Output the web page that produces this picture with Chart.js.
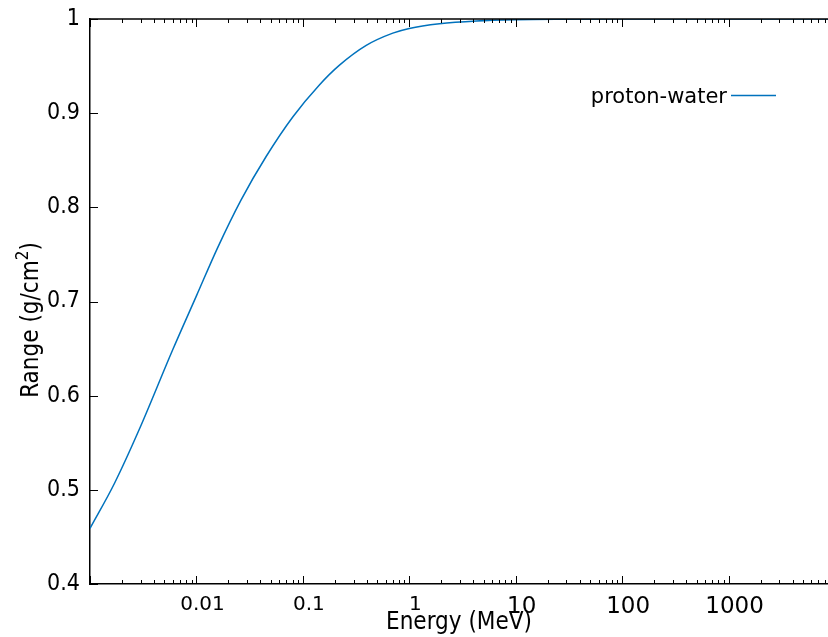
<!DOCTYPE html>
<html lang="en">
<head>
    <meta charset="UTF-8">
    <title>proton-water range</title>
    <script src="https://cdn.jsdelivr.net/npm/chart.js"></script>
    <style>
        body { margin: 0; background: #fff; }
        canvas { display: block; }
    </style>
</head>
<body>
    <canvas id="rangeChart" width="828" height="637"></canvas>

    <script>
        // values
        const energy = [0.001, 0.0017, 0.0029, 0.006, 0.01, 0.0158, 0.0263, 0.0452, 0.0804, 0.143,
                        0.221, 0.394, 0.7, 1, 1.92, 4.29, 10, 30, 100, 1000, 8600];
        const range = [0.459, 0.507, 0.564, 0.649, 0.706, 0.757, 0.808, 0.854, 0.896, 0.930,
                       0.951, 0.972, 0.985, 0.990, 0.995, 0.998, 0.9993, 0.9998, 1, 1, 1];
        const xTicks = [0.01, 0.1, 1, 10, 100, 1000];
        const seriesName = 'proton-water';

        const lineColor = '#0072bd';
        const condensed = '"DejaVu Sans Condensed", "DejaVu Sans", sans-serif';
        const normal = '"DejaVu Sans", sans-serif';

        // gnuplot style frame: top border, mirrored log ticks, y ticks, y title, legend
        const framePlugin = {
            id: 'frame',
            afterDraw(chart) {
                const ctx = chart.ctx;
                const area = chart.chartArea;
                const xs = chart.scales.x;
                const ys = chart.scales.y;
                ctx.save();
                ctx.strokeStyle = '#000';
                ctx.lineWidth = 1.5;
                ctx.beginPath();
                ctx.moveTo(area.left, area.top);
                ctx.lineTo(area.right, area.top);
                ctx.stroke();

                ctx.lineWidth = 1;
                ctx.beginPath();
                for (let d = -3; d <= 4; d++) {
                    for (let m = 1; m <= 9; m++) {
                        const v = m * Math.pow(10, d);
                        if (v < xs.min || v > xs.max) continue;
                        const px = Math.round(xs.getPixelForValue(v)) + 0.5;
                        const len = m === 1 ? 8 : 4;
                        ctx.moveTo(px, area.bottom);
                        ctx.lineTo(px, area.bottom - len);
                        ctx.moveTo(px, area.top);
                        ctx.lineTo(px, area.top + len);
                    }
                }
                ys.ticks.forEach(t => {
                    const py = Math.round(ys.getPixelForValue(t.value)) + 0.5;
                    ctx.moveTo(area.left, py);
                    ctx.lineTo(area.left + 8, py);
                });
                ctx.stroke();

                // y title with a raised superscript
                ctx.fillStyle = '#000';
                ctx.translate(38, 320);
                ctx.rotate(-Math.PI / 2);
                const main = 'Range (g/cm', sup = '2', tail = ')';
                ctx.font = '24px ' + condensed;
                const wMain = ctx.measureText(main).width;
                const wTail = ctx.measureText(tail).width;
                ctx.font = '17px ' + condensed;
                const wSup = ctx.measureText(sup).width;
                const x0 = -(wMain + wSup + wTail) / 2;
                ctx.textAlign = 'left';
                ctx.textBaseline = 'alphabetic';
                ctx.font = '24px ' + condensed;
                ctx.fillText(main, x0, 0);
                ctx.font = '17px ' + condensed;
                ctx.fillText(sup, x0 + wMain, -10);
                ctx.font = '24px ' + condensed;
                ctx.fillText(tail, x0 + wMain + wSup, 0);
                ctx.setTransform(1, 0, 0, 1, 0, 0);

                // legend: text then line sample, as gnuplot draws it
                const ly = 95.5;
                ctx.font = '21px ' + normal;
                ctx.textAlign = 'right';
                ctx.fillText(chart.data.datasets[0].label, 727, 103);
                ctx.strokeStyle = lineColor;
                ctx.lineWidth = 1.5;
                ctx.beginPath();
                ctx.moveTo(731, ly);
                ctx.lineTo(776, ly);
                ctx.stroke();
                ctx.restore();
            }
        };

        const ctx = document.getElementById('rangeChart').getContext('2d');
        new Chart(ctx, {
            type: 'line',
            data: {
                datasets: [{
                    label: seriesName,
                    data: energy.map((e, i) => ({ x: e, y: range[i] })),
                    borderColor: lineColor,
                    borderWidth: 1.5,
                    pointRadius: 0,
                    fill: false,
                    cubicInterpolationMode: 'monotone'
                }]
            },
            options: {
                responsive: false,
                animation: false,
                layout: { padding: { top: 19, right: 0, left: 0, bottom: 0 } },
                plugins: {
                    legend: { display: false },
                    tooltip: { enabled: false }
                },
                scales: {
                    x: {
                        type: 'logarithmic',
                        min: 0.001,
                        max: 8600,
                        afterBuildTicks: axis => { axis.ticks = xTicks.map(v => ({ value: v })); },
                        afterFit: axis => { axis.height = 53; axis.paddingLeft = 0; axis.paddingRight = 0; },
                        grid: { display: false, drawTicks: false },
                        border: { display: true, color: '#000', width: 1.5 },
                        ticks: {
                            color: '#000',
                            padding: 9,
                            labelOffset: 6,
                            maxRotation: 0,
                            autoSkip: false,
                            font: c => ({ family: normal, size: c.tick && c.tick.value >= 10 ? 23 : 20 }),
                            callback: v => String(v)
                        },
                        title: {
                            display: true,
                            text: 'Energy (MeV)',
                            color: '#000',
                            font: { family: condensed, size: 24 },
                            padding: { top: 0, bottom: 0 }
                        }
                    },
                    y: {
                        min: 0.4,
                        max: 1,
                        afterFit: axis => { axis.width = 90; axis.paddingTop = 0; axis.paddingBottom = 0; },
                        grid: { display: false, drawTicks: false },
                        border: { display: true, color: '#000', width: 1.5 },
                        ticks: {
                            stepSize: 0.1,
                            color: '#000',
                            padding: 10,
                            font: { family: condensed, size: 23 },
                            callback: v => String(Number(v.toFixed(1)))
                        },
                        title: { display: false }
                    }
                }
            },
            plugins: [framePlugin]
        });
    </script>
</body>
</html>
